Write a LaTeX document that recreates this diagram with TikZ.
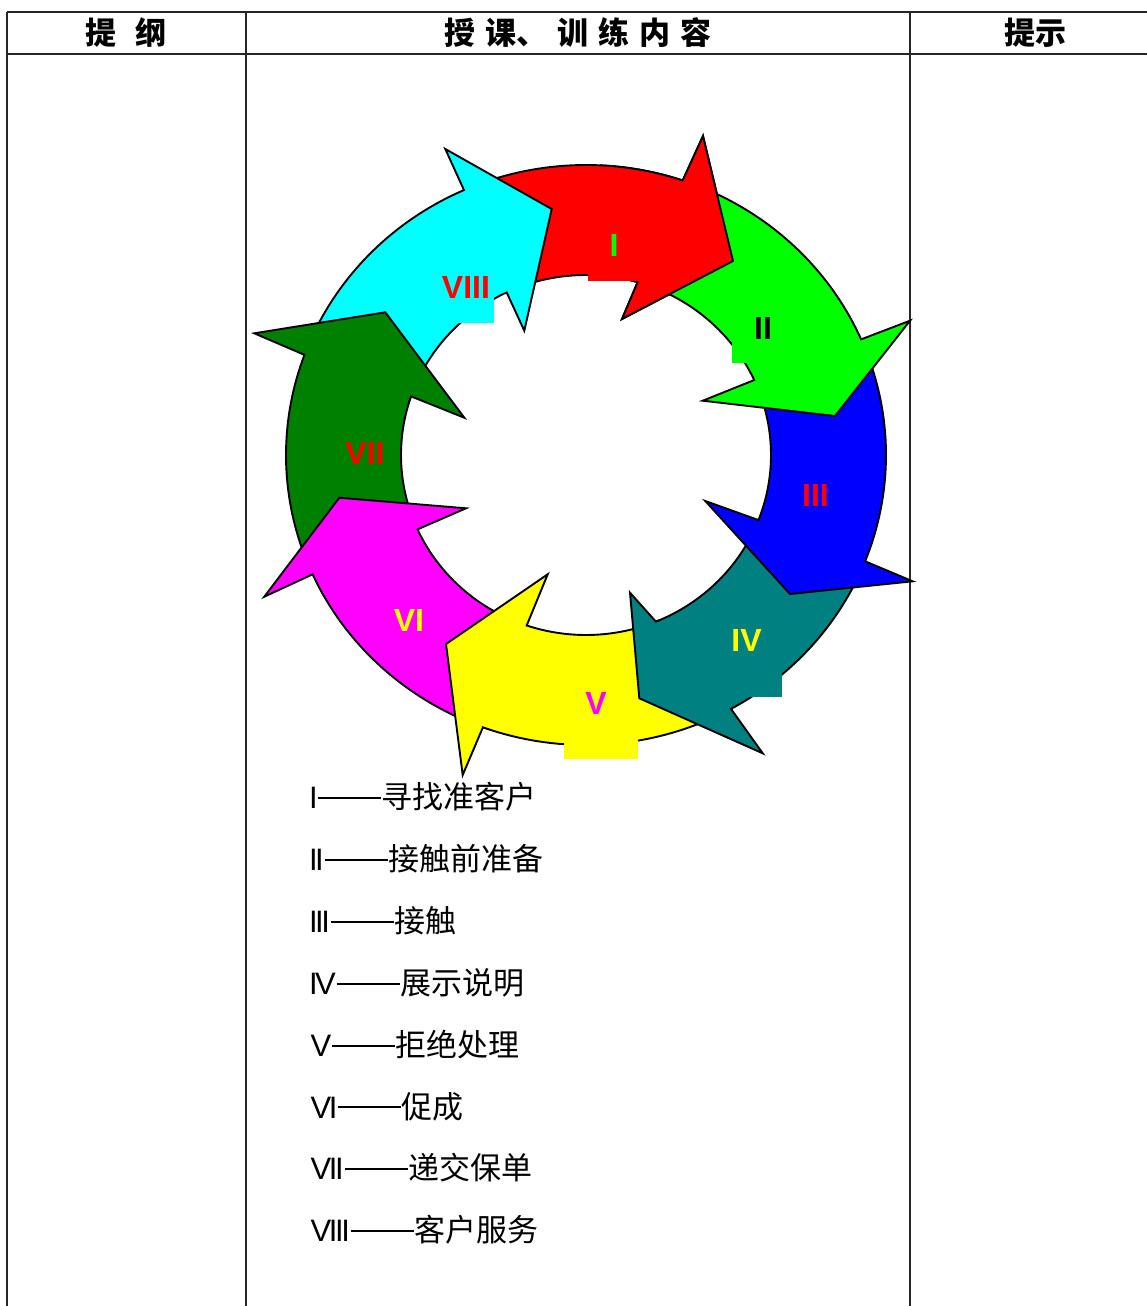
\documentclass[tikz,border=0pt]{standalone}
\usepackage{fontspec}
\setmainfont{Liberation Sans}
\newfontfamily\cjk{Noto Sans CJK SC}
\usetikzlibrary{calc}
\definecolor{cRed}{RGB}{255,0,0}
\definecolor{cLime}{RGB}{0,255,0}
\definecolor{cBlue}{RGB}{0,0,255}
\definecolor{cTeal}{RGB}{0,128,128}
\definecolor{cYellow}{RGB}{255,255,0}
\definecolor{cMagenta}{RGB}{255,0,255}
\definecolor{cDkGreen}{RGB}{0,128,0}
\definecolor{cCyan}{RGB}{0,255,255}
% #1 colour, #2 tail angle, #3 outer notch angle, #4 inner notch angle, #5 outer barb, #6 tip, #7 inner barb
\newcommand\cycarrow[7]{%
  \filldraw[arrowshape, fill=#1] ($(C)+(#2:300 and 290)$)
    arc[start angle=#2, end angle=#3, x radius=300, y radius=290]
    -- #5 -- #6 -- #7 -- ($(C)+(#4:185 and 180)$)
    arc[start angle=#4, end angle=#2, x radius=185, y radius=180] -- cycle;}
\newcommand\rI{I\kern-2.4pt}
\newcommand\rV{V\kern-2.4pt}
\newcommand\ddash{\kern2.4pt\hspace{0.8pt}\rule[9.6pt]{63pt}{2pt}\hspace{0.5pt}}
\begin{document}
\begin{tikzpicture}[x=1pt,y=1pt,
  arrowshape/.style={draw=black, line width=1.9pt, line join=miter},
  lab/.style={font=\fontsize{32}{36}\selectfont\bfseries, inner sep=0pt},
  tline/.style={line width=1.4pt, draw=black!85},
  head/.style={font=\fontsize{31}{34}\selectfont\cjk\bfseries, inner sep=0pt},
  leg/.style={anchor=base west, inner sep=0pt, font=\fontsize{31}{34}\selectfont}
]
\useasboundingbox (0,0) rectangle (1147,-1306);
\fill[white] (0,0) rectangle (1147,-1306);
% table
\draw[tline] (7,-12) -- (1147,-12);
\draw[tline] (7,-54) -- (1147,-54);
\draw[tline] (7,-12) -- (7,-1306);
\draw[tline] (246,-12) -- (246,-1306);
\draw[tline] (910,-12) -- (910,-1306);
\node[head] (h1) at (126,-33) {提\hspace{20pt}纲};
\node[head] (h2) at (578,-33) {授\hspace{10pt}课、\hspace{10pt}训\hspace{10pt}练\hspace{10pt}内\hspace{10pt}容};
\node[head] (h3) at (1035,-33) {提示};

\coordinate (C) at (586,-455);
% I (drawn first, head redrawn last)
\cycarrow{cRed}{109}{71.2}{73.8}{(703,-136)}{(733,-261)}{(622,-319)}
% VIII
\cycarrow{cCyan}{154.8}{114}{115.4}{(445.3,-149)}{(551.7,-209)}{(524.3,-330.7)}
\fill[cCyan] (438,-262) rectangle (494,-322.7);
\node[lab, text=cRed] (l8) at (466,-287) {VIII};
% VII
\cycarrow{cDkGreen}{199.3}{159.8}{161}{(254.3,-333.3)}{(385.3,-312.3)}{(464.3,-417.7)}
\node[lab, text=cRed] (l7) at (365,-453) {VII};
% VI
\cycarrow{cMagenta}{245}{204.3}{204.4}{(264.3,-596.7)}{(339.3,-497.7)}{(466,-508.3)}
\node[lab, text=cYellow] (l6) at (409,-620) {VI};
% V
\cycarrow{cYellow}{293}{249.9}{251.3}{(462.7,-775)}{(446,-644)}{(547.7,-574.3)}
\fill[cYellow] (564,-680) rectangle (637.7,-759.3);
\node[lab, text=cMagenta] (l5) at (596,-703) {V};
% IV
\cycarrow{cTeal}{333.5}{298.9}{292.2}{(762.7,-753.3)}{(639.3,-698.3)}{(630,-592.7)}
\fill[cTeal] (711,-605) rectangle (782.3,-696.7);
\node[lab, text=cYellow] (l4) at (746.5,-640) {IV};
% III
\cycarrow{cBlue}{18.5}{-21.5}{-21.2}{(912.7,-581.3)}{(790,-594)}{(705.3,-501)}
\node[lab, text=cRed] (l3) at (815.5,-495) {III};
% II
\cycarrow{cLime}{66.2}{23.5}{24.6}{(910,-320.7)}{(835,-416)}{(702.7,-400.7)}
\fill[cLime] (731.7,-300) rectangle (794,-363.3);
\node[lab, text=black] (l2) at (763,-328) {II};
% I head on top
\begin{scope}
\clip (600,-100) rectangle (790,-345);
\cycarrow{cRed}{109}{71.2}{73.8}{(703,-136)}{(733,-261)}{(622,-319)}
\end{scope}
\fill[cRed] (588,-215) rectangle (640,-281);
\node[lab, text=cLime] (l1) at (614,-245) {I};

% legend
\node[leg] (g1) at (308.8,-808.5) {\rI\ddash{\cjk 寻找准客户}};
\node[leg] (g2) at (308.8,-870.4) {\rI\rI\ddash{\cjk 接触前准备}};
\node[leg] (g3) at (308.8,-932.3) {\rI\rI\rI\ddash{\cjk 接触}};
\node[leg] (g4) at (308.8,-994.2) {\rI\rV\ddash{\cjk 展示说明}};
\node[leg] (g5) at (310.5,-1056.1) {\rV\ddash{\cjk 拒绝处理}};
\node[leg] (g6) at (310.5,-1118.0) {\rV\rI\ddash{\cjk 促成}};
\node[leg] (g7) at (310.5,-1179.9) {\rV\rI\rI\ddash{\cjk 递交保单}};
\node[leg] (g8) at (310.5,-1241.8) {\rV\rI\rI\rI\ddash{\cjk 客户服务}};
\end{tikzpicture}
\end{document}
